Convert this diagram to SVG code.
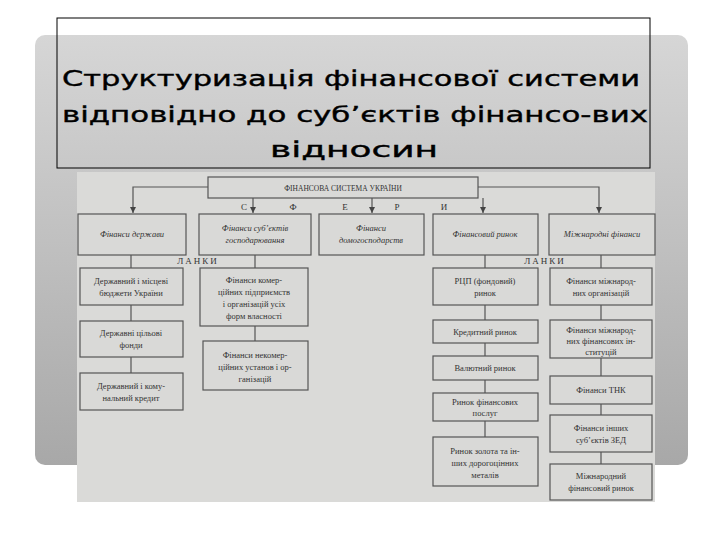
<svg xmlns="http://www.w3.org/2000/svg" width="720" height="540" viewBox="0 0 720 540">
<defs>
<linearGradient id="pg" x1="0" y1="0" x2="0" y2="1"><stop offset="0" stop-color="#d6d6d6"/><stop offset="1" stop-color="#a8a8a8"/></linearGradient>
<marker id="ar" viewBox="0 0 6 6" refX="6" refY="3" markerWidth="5" markerHeight="5" orient="auto"><path d="M0,0L6,3L0,6z" fill="#444"/></marker>
</defs>
<style>
.b{fill:#d9d9d7;stroke:#555;stroke-width:1.2}
.t{font-family:"Liberation Serif",serif;font-size:8.5px;fill:#333;text-anchor:middle}
.i{font-style:italic}
.c{stroke:#555;stroke-width:1.2;fill:none}
.ttl{font-family:"DejaVu Sans","Liberation Sans",sans-serif;font-size:22px;font-weight:normal;fill:#000;stroke:#000;stroke-width:0.4}
</style>
<rect width="720" height="540" fill="#fff"/>
<rect x="35" y="35" width="653" height="430" rx="10" fill="url(#pg)"/>
<rect x="77" y="172" width="578" height="330" fill="#dadad8"/>
<rect x="57" y="18" width="593" height="150" fill="none" stroke="#000" stroke-width="1"/>
<text class="ttl" x="62" y="86" textLength="578" lengthAdjust="spacingAndGlyphs">Структуризація фінансової системи</text>
<text class="ttl" x="62" y="122" textLength="586" lengthAdjust="spacingAndGlyphs">відповідно до суб’єктів фінансо-вих</text>
<text class="ttl" x="270" y="157" textLength="168" lengthAdjust="spacingAndGlyphs">відносин</text>
<g id="connectors">
<path class="c" d="M208,187H133V213" marker-end="url(#ar)"/>
<path class="c" d="M478,187H599V213" marker-end="url(#ar)"/>
<path class="c" d="M253,198V213" marker-end="url(#ar)"/>
<path class="c" d="M372,198V213" marker-end="url(#ar)"/>
<path class="c" d="M483,198V213" marker-end="url(#ar)"/>
<path class="c" d="M131,255V268M131,305V321M131,357V373"/>
<path class="c" d="M255,255V268M255,326V341"/>
<path class="c" d="M485,255V268M485,305V320M485,343V356M485,380V393M485,421V437"/>
<path class="c" d="M601,255V268M601,305V320M601,358V376M601,404V415M601,452V464"/>
</g>
<g id="top"><rect class="b" x="208" y="177" width="270" height="21"/><text class="t" x="343" y="191" style="font-size:7.5px">ФІНАНСОВА СИСТЕМА УКРАЇНИ</text></g>
<g id="letters" class="t" style="font-size:9px"><text x="244" y="210">С</text><text x="293" y="210">Ф</text><text x="345" y="210">Е</text><text x="397" y="210">Р</text><text x="444" y="210">И</text></g>
<g id="lanky" class="t" style="font-size:9px;letter-spacing:2px"><text x="198" y="264">ЛАНКИ</text><text x="545" y="264">ЛАНКИ</text></g>
<g id="n1"><rect class="b" x="78" y="214" width="108" height="41"/><text class="t i" x="132" y="237">Фінанси держави</text></g>
<g id="n2"><rect class="b" x="199" y="214" width="112" height="41"/><text class="t i" x="255" y="231">Фінанси суб’єктів</text><text class="t i" x="255" y="243">господарювання</text></g>
<g id="n3"><rect class="b" x="319" y="214" width="105" height="41"/><text class="t i" x="371" y="231">Фінанси</text><text class="t i" x="371" y="243">домогосподарств</text></g>
<g id="n4"><rect class="b" x="433" y="214" width="105" height="41"/><text class="t i" x="485" y="237">Фінансовий ринок</text></g>
<g id="n5"><rect class="b" x="549" y="214" width="106" height="41"/><text class="t i" x="602" y="237">Міжнародні фінанси</text></g>
<g id="a1"><rect class="b" x="80" y="268" width="103" height="37"/><text class="t" x="131" y="284">Державний і місцеві</text><text class="t" x="131" y="296">бюджети України</text></g>
<g id="a2"><rect class="b" x="80" y="321" width="103" height="36"/><text class="t" x="131" y="336">Державні цільові</text><text class="t" x="131" y="348">фонди</text></g>
<g id="a3"><rect class="b" x="80" y="373" width="103" height="37"/><text class="t" x="131" y="389">Державний і кому-</text><text class="t" x="131" y="401">нальний кредит</text></g>
<g id="b1"><rect class="b" x="200" y="268" width="108" height="58"/><text class="t" x="254" y="283">Фінанси комер-</text><text class="t" x="254" y="295">ційних підприємств</text><text class="t" x="254" y="307">і організацій усіх</text><text class="t" x="254" y="319">форм власності</text></g>
<g id="b2"><rect class="b" x="203" y="341" width="105" height="49"/><text class="t" x="255" y="358">Фінанси некомер-</text><text class="t" x="255" y="370">ційних установ і ор-</text><text class="t" x="255" y="382">ганізацій</text></g>
<g id="d1"><rect class="b" x="433" y="268" width="105" height="37"/><text class="t" x="485" y="284">РЦП (фондовий)</text><text class="t" x="485" y="296">ринок</text></g>
<g id="d2"><rect class="b" x="433" y="320" width="105" height="23"/><text class="t" x="485" y="335">Кредитний ринок</text></g>
<g id="d3"><rect class="b" x="433" y="356" width="105" height="24"/><text class="t" x="485" y="371">Валютний ринок</text></g>
<g id="d4"><rect class="b" x="433" y="393" width="105" height="28"/><text class="t" x="485" y="405">Ринок фінансових</text><text class="t" x="485" y="416">послуг</text></g>
<g id="d5"><rect class="b" x="433" y="437" width="105" height="49"/><text class="t" x="485" y="454">Ринок золота та ін-</text><text class="t" x="485" y="466">ших дорогоцінних</text><text class="t" x="485" y="478">металів</text></g>
<g id="e1"><rect class="b" x="550" y="268" width="102" height="37"/><text class="t" x="601" y="284">Фінанси міжнарод-</text><text class="t" x="601" y="296">них організацій</text></g>
<g id="e2"><rect class="b" x="550" y="320" width="102" height="38"/><text class="t" x="601" y="333">Фінанси міжнарод-</text><text class="t" x="601" y="344">них фінансових ін-</text><text class="t" x="601" y="355">ституцій</text></g>
<g id="e3"><rect class="b" x="550" y="376" width="102" height="28"/><text class="t" x="601" y="393">Фінанси ТНК</text></g>
<g id="e4"><rect class="b" x="550" y="415" width="102" height="37"/><text class="t" x="601" y="431">Фінанси інших</text><text class="t" x="601" y="443">суб’єктів ЗЕД</text></g>
<g id="e5"><rect class="b" x="550" y="464" width="102" height="36"/><text class="t" x="601" y="479">Міжнародний</text><text class="t" x="601" y="491">фінансовий ринок</text></g>
</svg>
